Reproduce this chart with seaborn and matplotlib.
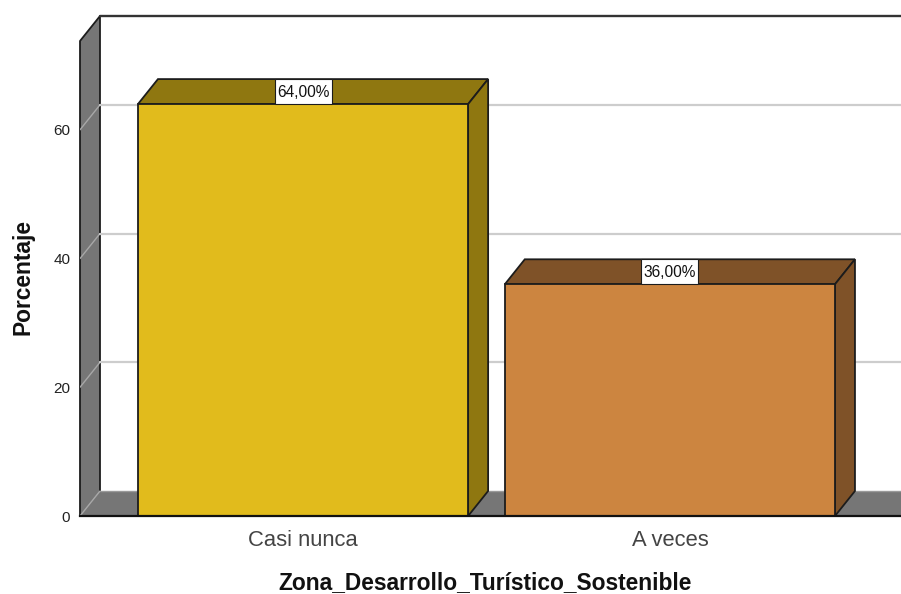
import matplotlib
matplotlib.use("Agg")
import matplotlib.pyplot as plt
from matplotlib.patches import Polygon, Rectangle
import pandas as pd
import seaborn as sns

categories = ["Casi nunca", "A veces"]
values = [64.0, 36.0]
labels = ["64,00%", "36,00%"]
yticks = [0, 20, 40, 60]
colors = ["#E1BB1C", "#CC8540"]
top_colors = ["#8F7710", "#7F5228"]

W, H = 901, 594
sns.set_style("white")
plt.rcParams["font.family"] = ["Liberation Sans", "DejaVu Sans"]
fig = plt.figure(figsize=(W / 100, H / 100), dpi=100, facecolor="white")
ax = fig.add_axes([80 / W, (H - 516) / H, (W - 80) / W, 475 / H])
ax.patch.set_alpha(0)

df = pd.DataFrame({"cat": categories, "val": values})
sns.barplot(data=df, x="cat", y="val", hue="cat", palette=colors, legend=False,
            width=0.9, saturation=1, edgecolor="#1c1c1c", linewidth=1.3, ax=ax, zorder=5)

ax.set_xlim(-0.608, 1.63)
ax.set_ylim(0, 73.8)
dx, dy = 20 / 367, 25 / 6.44
x0, x1 = ax.get_xlim()
ytop = ax.get_ylim()[1]
edge = "#1c1c1c"
wall = "#767676"
grid = "#cdcdcd"

# floor and left wall
ax.add_patch(Polygon([(x0, 0), (x0 + dx, dy), (x1 + dx, dy), (x1, 0)], closed=True,
                     fc=wall, ec="none", clip_on=True, zorder=1))
ax.add_patch(Polygon([(x0, 0), (x0 + dx, dy), (x0 + dx, ytop + dy), (x0, ytop)], closed=True,
                     fc=wall, ec="none", clip_on=False, zorder=1))
ax.plot([x0, x0, x0 + dx, x0 + dx], [0, ytop, ytop + dy, dy], color=edge, lw=1.3,
        clip_on=False, zorder=2)
ax.plot([x0 + dx, x1 + dx], [ytop + dy, ytop + dy], color="#333333", lw=1.7, clip_on=False, zorder=2)
ax.plot([x0 + dx, x1 + dx], [dy, dy], color="#9a9a9a", lw=1.0, clip_on=True, zorder=2)
for t in yticks:
    ax.plot([x0, x0 + dx], [t, t + dy], color="#a8a8a8", lw=1.0, zorder=2)
    if t > 0:
        ax.plot([x0 + dx, x1 + dx], [t + dy, t + dy], color=grid, lw=1.6, clip_on=True, zorder=2)

# bar depth faces and value labels
for bar, val, lab, tc in zip(ax.patches[:2], values, labels, top_colors):
    l, r = bar.get_x(), bar.get_x() + bar.get_width()
    ax.add_patch(Polygon([(l, val), (l + dx, val + dy), (r + dx, val + dy), (r, val)], closed=True,
                         fc=tc, ec=edge, lw=1.3, clip_on=False, zorder=4))
    ax.add_patch(Polygon([(r, 0), (r + dx, dy), (r + dx, val + dy), (r, val)], closed=True,
                         fc=tc, ec=edge, lw=1.3, clip_on=False, zorder=4))
    mid = (l + r) / 2
    w = 57 / 367
    ax.add_patch(Rectangle((mid - w / 2, val), w, dy, fc="white", ec=edge, lw=0.8,
                           clip_on=False, zorder=6))
    ax.text(mid, val + dy / 2 - 0.1, lab, ha="center", va="center", fontsize=11.2,
            color="#111111", zorder=7)

for s in ["top", "right", "left"]:
    ax.spines[s].set_visible(False)
ax.spines["bottom"].set_color("#111111")
ax.spines["bottom"].set_linewidth(1.6)
ax.spines["bottom"].set_zorder(6)

ax.set_yticks(yticks)
ax.tick_params(axis="y", labelsize=11, length=0, pad=7, labelcolor="#222222", left=False)
ax.tick_params(axis="x", labelsize=15.8, length=0, pad=10, labelcolor="#444444", bottom=False)
ax.set_xlabel("")
ax.set_ylabel("")
fig.text(23 / W, 1 - 277 / H, "Porcentaje", rotation=90, ha="center", va="center",
         fontsize=16.4, fontweight="bold", color="#111111")
fig.text(485.5 / W, 1 - 583 / H, "Zona_Desarrollo_Turístico_Sostenible", ha="center", va="center",
         fontsize=16.4, fontweight="bold", color="#111111")

fig.savefig("out.png", dpi=100)
